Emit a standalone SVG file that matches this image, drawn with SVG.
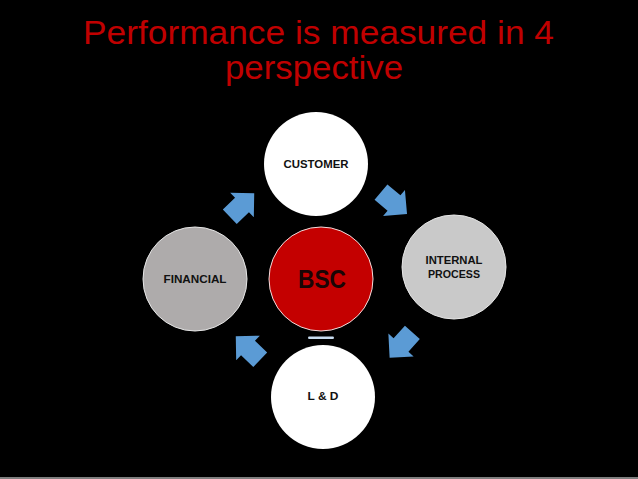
<svg xmlns="http://www.w3.org/2000/svg" width="638" height="479" viewBox="0 0 638 479">
<style>
.title{font-family:"Liberation Sans",Arial,sans-serif;font-size:33px;fill:#c00000;}
.lbl{font-family:"Liberation Sans",Arial,sans-serif;font-size:11px;font-weight:bold;fill:#111;text-anchor:middle;dominant-baseline:central;}
.bsc{font-family:"Liberation Sans",Arial,sans-serif;font-size:26px;font-weight:bold;fill:#1a0505;text-anchor:middle;dominant-baseline:central;}
.arrow{fill:#5b9bd5;}
</style>
<defs>
<path id="arr" d="M-17,-10 L0,-10 L0,-17 L17,0 L0,17 L0,10 L-17,10 Z"/>
</defs>
<rect x="0" y="0" width="638" height="479" fill="#000"/>
<rect x="0" y="477" width="638" height="2" fill="#7f7f7f"/>
<g id="title">
<text class="title" x="83" y="44" textLength="471" lengthAdjust="spacingAndGlyphs">Performance is measured in 4</text>
<text class="title" x="225" y="79" textLength="178" lengthAdjust="spacingAndGlyphs">perspective</text>
</g>
<g id="connectors">
<use href="#arr" class="arrow" transform="translate(242,205) rotate(-44)"/>
<use href="#arr" class="arrow" transform="translate(394,203) rotate(40)"/>
<use href="#arr" class="arrow" transform="translate(401,345) rotate(132)"/>
<use href="#arr" class="arrow" transform="translate(248,348) rotate(-136)"/>
<rect x="308" y="336.5" width="26" height="2.5" rx="1.2" fill="#c9dcf0"/>
</g>
<g id="customer">
<circle cx="316" cy="164" r="52" fill="#fff"/>
<text class="lbl" x="316" y="164" textLength="65" lengthAdjust="spacingAndGlyphs">CUSTOMER</text>
</g>
<g id="internal-process">
<circle cx="454" cy="267" r="52" fill="#c9c9c9" stroke="#e6e6e6" stroke-width="1"/>
<text class="lbl" x="454" y="260" textLength="57" lengthAdjust="spacingAndGlyphs">INTERNAL</text>
<text class="lbl" x="454" y="274" textLength="52" lengthAdjust="spacingAndGlyphs">PROCESS</text>
</g>
<g id="financial">
<circle cx="195" cy="279" r="52" fill="#aeabab" stroke="#e6e6e6" stroke-width="1"/>
<text class="lbl" x="195" y="279" textLength="63" lengthAdjust="spacingAndGlyphs">FINANCIAL</text>
</g>
<g id="bsc">
<circle cx="321" cy="279" r="52" fill="#c40000" stroke="#f2dede" stroke-width="1"/>
<text class="bsc" x="322" y="279" textLength="48" lengthAdjust="spacingAndGlyphs">BSC</text>
</g>
<g id="ld">
<circle cx="323" cy="397" r="52" fill="#fff"/>
<text class="lbl" x="323" y="396" textLength="31" lengthAdjust="spacingAndGlyphs">L &amp; D</text>
</g>
</svg>
